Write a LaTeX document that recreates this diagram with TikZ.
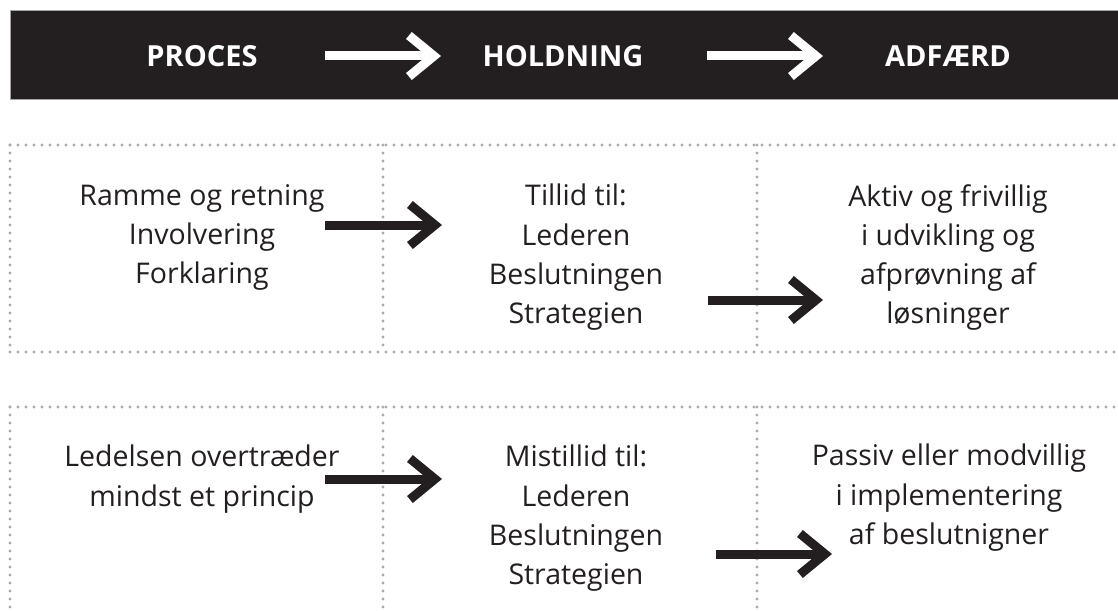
\documentclass[tikz,border=0pt]{standalone}
\usepackage{fontspec}
\setmainfont{Open Sans}
\usetikzlibrary{arrows.meta}
\definecolor{nearblack}{HTML}{231F20}
\definecolor{dotgray}{HTML}{ABABAB}

\begin{document}
\begin{tikzpicture}[x=1pt, y=-1pt,
    hnode/.style={text=white, font=\fontsize{29}{32}\selectfont\bfseries, inner sep=0pt},
    tnode/.style={text=nearblack, align=center, font=\fontsize{28.5}{39.3}\selectfont, inner sep=0pt, anchor=north},
    dline/.style={dotgray, line width=3.4pt, line cap=round, dash pattern=on 0pt off 8pt},
    harrow/.style={white, line width=9pt, -{Straight Barb[length=25pt, width=41pt, line join=miter, line cap=butt]}},
    barrow/.style={nearblack, line width=9pt, -{Straight Barb[length=25pt, width=41pt, line join=miter, line cap=butt]}}]
    \useasboundingbox (0,0) rectangle (1118,610);

    % header band
    \fill[nearblack, draw=black!35, line width=0.6pt] (10,10) rectangle (1120,99);
    \node[hnode] (proc) at (202,56) {PROCES};
    \node[hnode] (hold) at (563,56) {HOLDNING};
    \node[hnode] (adf) at (948,56) {ADFÆRD};
    \coordinate (h1s) at (325,56);
    \coordinate (h1e) at (441,56);
    \coordinate (h2s) at (707,56);
    \coordinate (h2e) at (823,56);
    \draw[harrow] (h1s) -- (h1e);
    \draw[harrow] (h2s) -- (h2e);

    % dotted frames
    \draw[dline] (10,145) -- (1118,145);
    \draw[dline] (10,352) -- (1118,352);
    \draw[dline] (10,145) -- (10,352);
    \draw[dline] (383,145) -- (383,352);
    \draw[dline] (757,145) -- (757,352);
    \draw[dline] (10,407) -- (1118,407);
    \draw[dline] (10,407) -- (10,612);
    \draw[dline] (383,407) -- (383,612);
    \draw[dline] (757,407) -- (757,612);

    % upper row
    \node[tnode] (trust1) at (202,184) {Ramme og retning\\Involvering\\Forklaring};
    \node[tnode] (trust2) at (576,184) {Tillid til:\\Lederen\\Beslutningen\\Strategien};
    \node[tnode] (trust3) at (948,184) {Aktiv og frivillig\\i udvikling og\\afprøvning af\\løsninger};
    \coordinate (t1s) at (325,225);
    \coordinate (t1e) at (442,225);
    \coordinate (t2s) at (708,300);
    \coordinate (t2e) at (823,300);
    \draw[barrow] (t1s) -- (t1e);
    \draw[barrow] (t2s) -- (t2e);

    % lower row
    \node[tnode] (dist1) at (202,445) {Ledelsen overtræder\\mindst et princip};
    \node[tnode] (dist2) at (576,445) {Mistillid til:\\Lederen\\Beslutningen\\Strategien};
    \node[tnode] (dist3) at (949,444) {Passiv eller modvillig\\i implementering\\af beslutnigner};
    \coordinate (d1s) at (325,479);
    \coordinate (d1e) at (442,479);
    \coordinate (d2s) at (716,554);
    \coordinate (d2e) at (832,554);
    \draw[barrow] (d1s) -- (d1e);
    \draw[barrow] (d2s) -- (d2e);

\end{tikzpicture}
\end{document}
